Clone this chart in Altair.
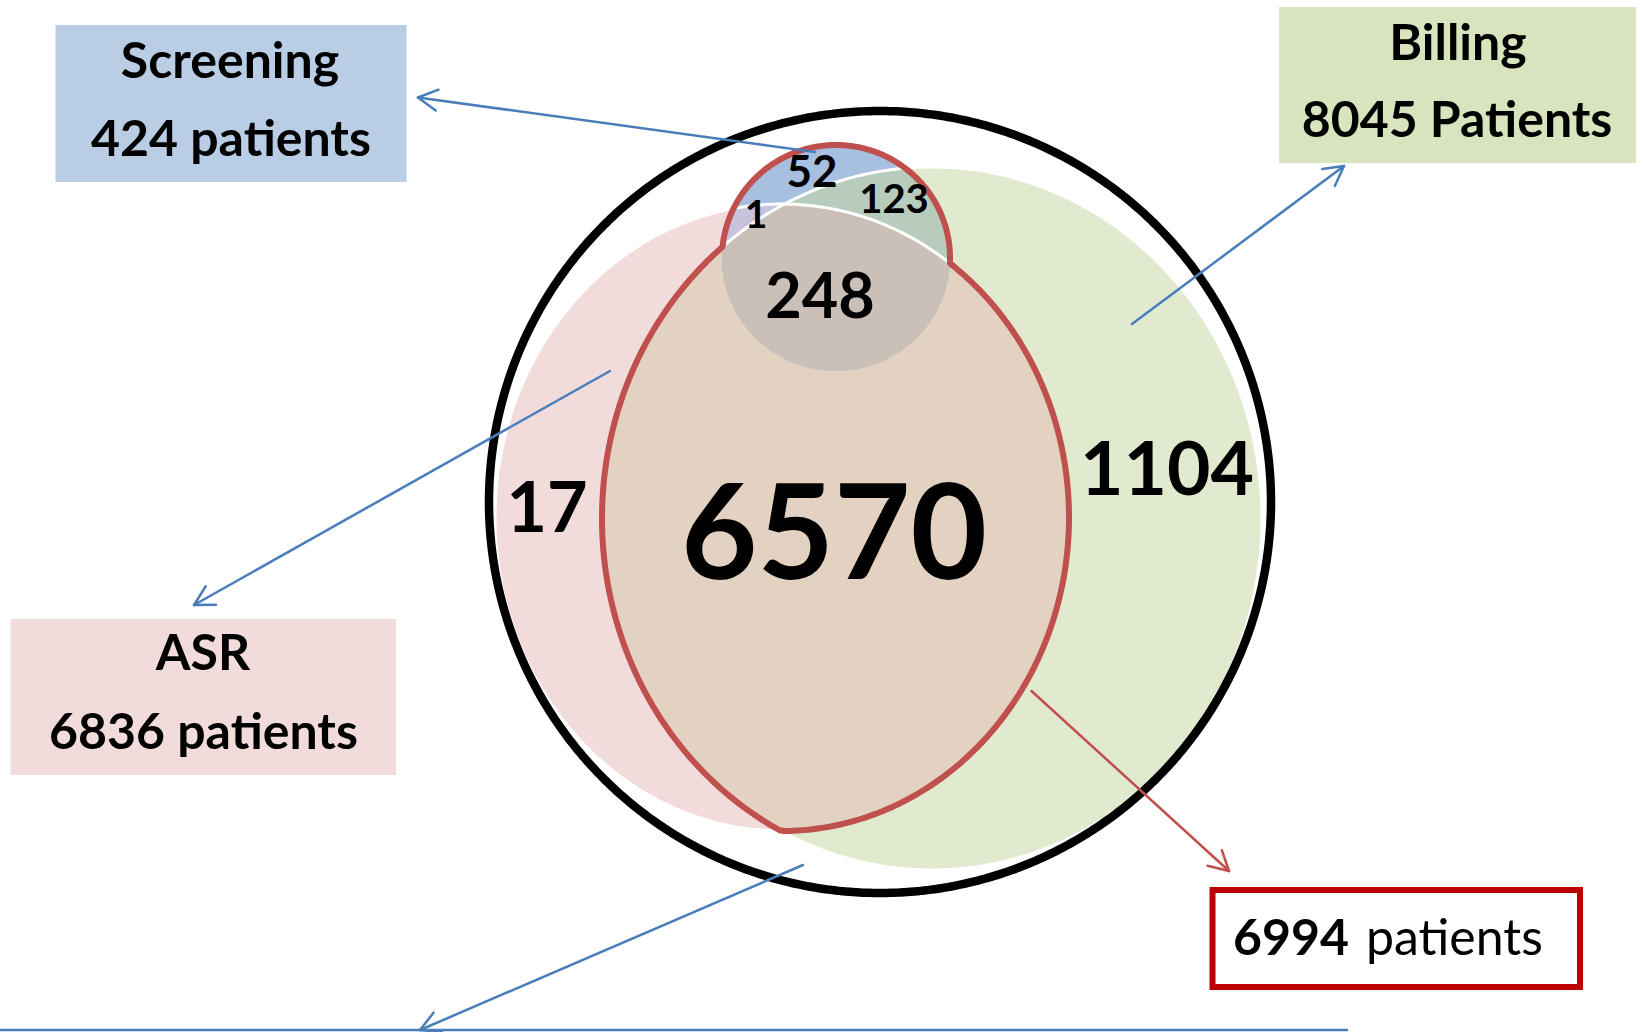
import math
import altair as alt
import pandas as pd

W, H = 1643, 1032
FONT = "Lato"

# Patient counts per Venn region (S = Screening, A = ASR, B = Billing)
REGION_KEYS = ["A", "B", "AB", "S", "SA", "SB", "SAB"]
REGION_COUNTS = [17, 1104, 6570, 52, 1, 123, 248]
SOURCE_NAMES = ["Screening", "Billing", "ASR"]
SOURCE_KEYS = ["S", "B", "A"]
SOURCE_UNITS = ["patients", "Patients", "patients"]
# regions enclosed by the red outline
OUTLINED = ["AB", "SAB", "SA", "S", "SB"]

counts = dict(zip(REGION_KEYS, REGION_COUNTS))
totals = [sum(c for k, c in counts.items() if key in k) for key in SOURCE_KEYS]
outlined_total = sum(counts[k] for k in OUTLINED)

# ---- layout (pixels) ----
SETS = {  # centre x, centre y, radius x, radius y
    "A": (782.0, 517.5, 287.0, 313.5),
    "B": (932.0, 518.5, 330.0, 351.5),
    "S": (836.0, 258.0, 114.0, 113.0),
}
RING = (880.0, 502.0, 391.0, 391.0)

REGION_FILL = {
    "A": "#f2dcdb", "B": "#e1eacf", "AB": "#e3d1c1", "S": "#a7c0df",
    "SA": "#c7c3dc", "SB": "#b7ccbc", "SAB": "#cbc0b8",
}
REGION_LABEL = {  # x, baseline y, font size
    "A": (547, 532, 70), "B": (1167, 495, 75), "AB": (834, 579, 132),
    "S": (812, 187, 44), "SA": (756, 228, 39), "SB": (894, 213, 40),
    "SAB": (820, 318, 63),
}
BOXES = {  # x0, x1, y0, y1, fill, title xy, count xy
    "Screening": (55.5, 406.5, 25, 182, "#b9cde5", (230, 78), (231, 156)),
    "Billing": (1279, 1636, 7, 163, "#d7e4bd", (1458, 60), (1457, 137)),
    "ASR": (10.5, 396, 619, 775, "#f2dcdb", (203, 670), (203.5, 749)),
}
BOX_FONT = 50
OUT_BOX = (1212.5, 1580, 890, 987)
BLUE = "#4a7ebb"
RED_LINE = "#c0504d"
ARROWS = [  # start, tip, colour
    ((815, 152), (418, 97.5), BLUE),
    ((1132, 324), (1344, 166), BLUE),
    ((610, 371), (194, 605), BLUE),
    ((1031.5, 691), (1229, 871), RED_LINE),
    ((803, 865), (420, 1030), BLUE),
]


def ray(ox, oy, th, e):
    """Distance from an interior point to the ellipse edge along angle th."""
    cx, cy, rx, ry = e
    c, s = math.cos(th), math.sin(th)
    dx, dy = ox - cx, oy - cy
    a = (c / rx) ** 2 + (s / ry) ** 2
    b = 2 * (dx * c / rx ** 2 + dy * s / ry ** 2)
    q = (dx / rx) ** 2 + (dy / ry) ** 2 - 1
    return (-b + math.sqrt(b * b - 4 * a * q)) / (2 * a)


def inside(x, y, e):
    cx, cy, rx, ry = e
    return ((x - cx) / rx) ** 2 + ((y - cy) / ry) ** 2 <= 1


def interior_point(keys):
    es = [SETS[k] for k in keys]
    e0 = min(es, key=lambda e: e[2] * e[3])
    pts = []
    for i in range(41):
        for j in range(41):
            x = e0[0] - e0[2] + 2 * e0[2] * i / 40
            y = e0[1] - e0[3] + 2 * e0[3] * j / 40
            if all(inside(x, y, e) for e in es):
                pts.append((x, y))
    return (sum(p[0] for p in pts) / len(pts), sum(p[1] for p in pts) / len(pts))


N = 720


def outline(ox, oy, radius_fn):
    pts = []
    for i in range(N):
        th = 2 * math.pi * i / N
        r = radius_fn(th)
        pts.append((ox + r * math.cos(th), oy + r * math.sin(th)))
    return pts


def region_outline(keys):
    ox, oy = interior_point(keys)
    return outline(ox, oy, lambda th: min(ray(ox, oy, th, SETS[k]) for k in keys))


def union_outline():
    # (A and B) or S, star-shaped about a point common to all three
    ox, oy = interior_point("SAB")
    return outline(ox, oy, lambda th: max(min(ray(ox, oy, th, SETS["A"]),
                                              ray(ox, oy, th, SETS["B"])),
                                          ray(ox, oy, th, SETS["S"])))


def feature(pts, **props):
    ring = [[round(x, 2), round(y, 2)] for x, y in pts]
    ring.append(ring[0])
    return {"type": "Feature", "properties": props,
            "geometry": {"type": "Polygon", "coordinates": [ring]}}


proj = dict(type="identity", scale=1, translate=[0, 0])

fill_feats = [feature(region_outline(k), fill=REGION_FILL[k]) for k in REGION_KEYS]
fills = alt.Chart(alt.Data(values=fill_feats)).mark_geoshape(
    strokeWidth=0, strokeOpacity=0
).encode(fill=alt.Fill("properties.fill:N", scale=None)).project(**proj)

edge_feats = [
    feature(region_outline("A"), stroke="#ffffff", sw=3),
    feature(region_outline("B"), stroke="#ffffff", sw=3),
    feature(outline(RING[0], RING[1], lambda th: ray(RING[0], RING[1], th, RING)),
            stroke="#000000", sw=8.5),
    feature(union_outline(), stroke=RED_LINE, sw=6),
]
edges = alt.Chart(alt.Data(values=edge_feats)).mark_geoshape(
    filled=False, strokeJoin="round"
).encode(
    stroke=alt.Stroke("properties.stroke:N", scale=None),
    strokeWidth=alt.StrokeWidth("properties.sw:Q", scale=None),
).project(**proj)

X = dict(scale=alt.Scale(domain=[0, W], nice=False, zero=False), axis=None)
Y = dict(scale=alt.Scale(domain=[0, H], nice=False, zero=False, reverse=True), axis=None)

# arrows: shaft plus an open chevron at the tip
segs = []
for (x0, y0), (x1, y1), col in ARROWS:
    segs.append(dict(x=x0, y=y0, x2=x1, y2=y1, c=col))
    ang = math.atan2(y0 - y1, x0 - x1)
    for d in (-0.5, 0.5):
        segs.append(dict(x=x1, y=y1, x2=x1 + 22 * math.cos(ang + d),
                         y2=y1 + 22 * math.sin(ang + d), c=col))
segs.append(dict(x=0, y=1030, x2=1347, y2=1030, c=BLUE))
arrows = alt.Chart(pd.DataFrame(segs)).mark_rule(strokeWidth=2.5, strokeCap="round").encode(
    x=alt.X("x:Q", **X), y=alt.Y("y:Q", **Y), x2="x2:Q", y2="y2:Q",
    color=alt.Color("c:N", scale=None),
)

box_rows = [dict(x0=b[0], x1=b[1], y0=b[2], y1=b[3], f=b[4], s=b[4], w=0)
            for b in (BOXES[n] for n in SOURCE_NAMES)]
box_rows.append(dict(x0=OUT_BOX[0], x1=OUT_BOX[1], y0=OUT_BOX[2], y1=OUT_BOX[3],
                     f="#ffffff", s="#c00000", w=6))
boxes = alt.Chart(pd.DataFrame(box_rows)).mark_rect().encode(
    x=alt.X("x0:Q", **X), x2="x1:Q", y=alt.Y("y0:Q", **Y), y2="y1:Q",
    fill=alt.Fill("f:N", scale=None), stroke=alt.Stroke("s:N", scale=None),
    strokeWidth=alt.StrokeWidth("w:Q", scale=None),
)

bold_rows = []
for k in REGION_KEYS:
    x, y, sz = REGION_LABEL[k]
    bold_rows.append(dict(t=str(counts[k]), x=x, y=y, sz=sz))
for name, tot, unit in zip(SOURCE_NAMES, totals, SOURCE_UNITS):
    b = BOXES[name]
    bold_rows.append(dict(t=name, x=b[5][0], y=b[5][1], sz=BOX_FONT))
    bold_rows.append(dict(t=f"{tot} {unit}", x=b[6][0], y=b[6][1], sz=BOX_FONT))

bold_text = alt.Chart(pd.DataFrame(bold_rows)).mark_text(
    font=FONT, fontWeight="bold", baseline="alphabetic", align="center", color="#000000"
).encode(
    x=alt.X("x:Q", **X), y=alt.Y("y:Q", **Y), text="t:N",
    size=alt.Size("sz:Q", scale=None),
)

out_num = alt.Chart(pd.DataFrame([dict(t=str(outlined_total), x=1349, y=955)])).mark_text(
    font=FONT, fontWeight="bold", baseline="alphabetic", align="right", fontSize=BOX_FONT,
    color="#000000",
).encode(x=alt.X("x:Q", **X), y=alt.Y("y:Q", **Y), text="t:N")
out_word = alt.Chart(pd.DataFrame([dict(t="patients", x=1366, y=955)])).mark_text(
    font=FONT, fontWeight="normal", baseline="alphabetic", align="left", fontSize=BOX_FONT,
    color="#000000",
).encode(x=alt.X("x:Q", **X), y=alt.Y("y:Q", **Y), text="t:N")

chart = alt.layer(fills, edges, arrows, boxes, bold_text, out_num, out_word).properties(
    width=W, height=H, padding=0, autosize=alt.AutoSizeParams(type="none"),
    background="#ffffff",
).configure_view(strokeWidth=0)

chart.save("out.html", embed_options={"renderer": "svg", "actions": False})
